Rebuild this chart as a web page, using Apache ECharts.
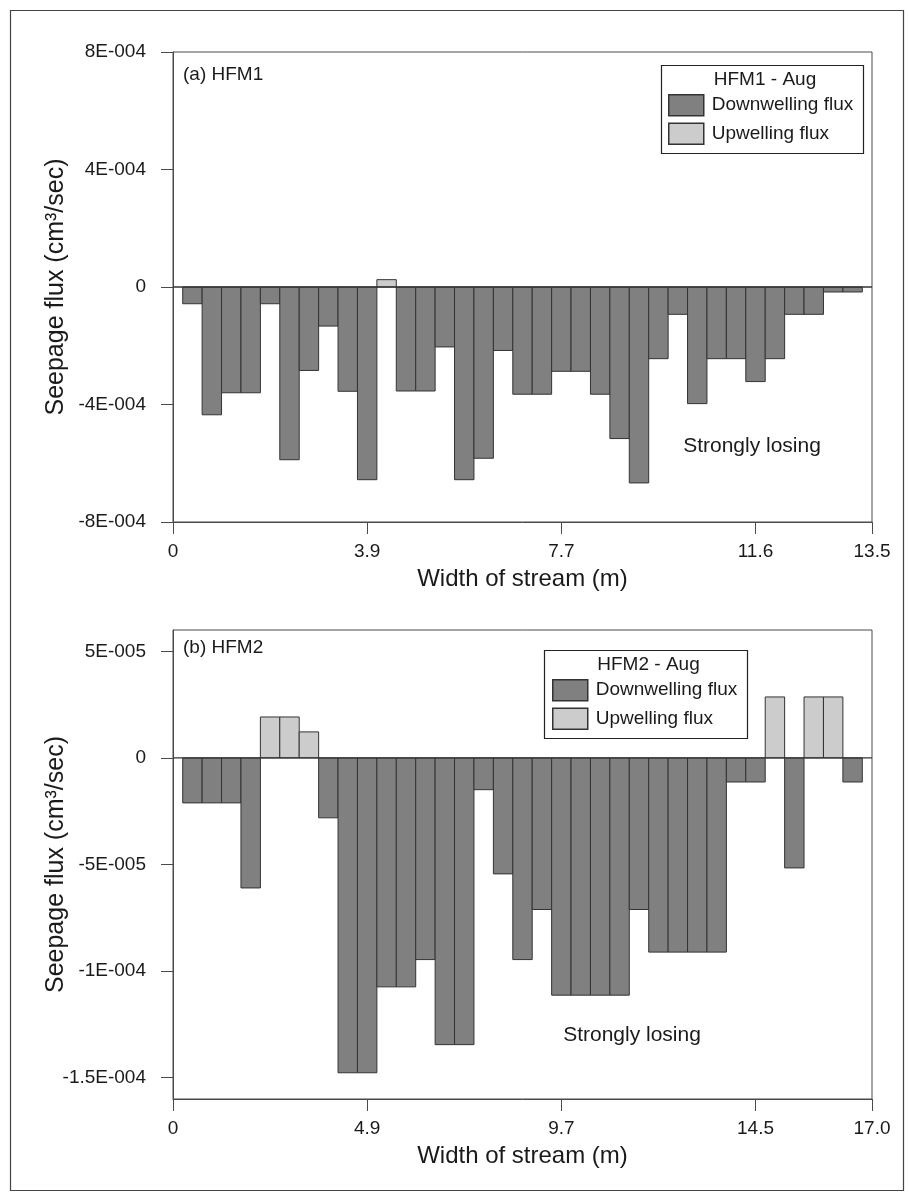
<!DOCTYPE html>
<html>
<head>
<meta charset="utf-8">
<title>Seepage flux across stream width</title>
<script src="https://cdn.jsdelivr.net/npm/echarts@6/dist/echarts.min.js"></script>
<style>
  html, body { margin: 0; padding: 0; background: #fff; }
  #chart { width: 909px; height: 1195px; }
</style>
</head>
<body>
<div id="chart"></div>
<script>
// Seepage flux (cm^3/sec) for each of the 35 measurement cells across the stream
const fluxHFM1 = [
  -5.7e-5, -4.35e-4, -3.6e-4, -3.6e-4, -5.7e-5, -5.88e-4, -2.84e-4, -1.33e-4, -3.55e-4, -6.56e-4,
  2.5e-5, -3.54e-4, -3.54e-4, -2.04e-4, -6.56e-4, -5.83e-4, -2.16e-4, -3.65e-4, -3.65e-4, -2.87e-4,
  -2.87e-4, -3.65e-4, -5.16e-4, -6.67e-4, -2.44e-4, -9.3e-5, -3.97e-4, -2.44e-4, -2.44e-4, -3.22e-4,
  -2.44e-4, -9.3e-5, -9.3e-5, -1.7e-5, -1.7e-5
];
const fluxHFM2 = [
  -2.11e-5, -2.11e-5, -2.11e-5, -6.1e-5, 1.92e-5, 1.92e-5, 1.22e-5, -2.81e-5, -1.477e-4, -1.477e-4,
  -1.074e-4, -1.074e-4, -9.46e-5, -1.345e-4, -1.345e-4, -1.49e-5, -5.44e-5, -9.46e-5, -7.11e-5, -1.113e-4,
  -1.113e-4, -1.113e-4, -1.113e-4, -7.11e-5, -9.11e-5, -9.11e-5, -9.11e-5, -9.11e-5, -1.13e-5, -1.13e-5,
  2.86e-5, -5.16e-5, 2.86e-5, 2.86e-5, -1.13e-5
];

// x axis runs over cell slots 0..36; ticks sit every ten cells and at the far bank
const xTickPos = [0, 10, 20, 30, 36];
const xTickLabelsHFM1 = ['0', '3.9', '7.7', '11.6', '13.5'];
const xTickLabelsHFM2 = ['0', '4.9', '9.7', '14.5', '17.0'];

const yTickValsHFM1 = [-8e-4, -4e-4, 0, 4e-4, 8e-4];
const yTickLabelsHFM1 = ['-8E-004', '-4E-004', '0', '4E-004', '8E-004'];
const yTickValsHFM2 = [-1.5e-4, -1e-4, -5e-5, 0, 5e-5];
const yTickLabelsHFM2 = ['-1.5E-004', '-1E-004', '-5E-005', '0', '5E-005'];

const panelTags = ['(a) HFM1', '(b) HFM2'];
const legendTitles = ['HFM1 - Aug', 'HFM2 - Aug'];
const seriesNames = ['Downwelling flux', 'Upwelling flux'];
const noteText = 'Strongly losing';

const FONT = '"Liberation Sans", Arial, Helvetica, sans-serif';
const TEXT = '#1a1a1a';
const AXIS = '#4a4a4a';
const DOWN_FILL = '#808080';
const UP_FILL = '#cccccc';
const BAR_EDGE = '#333333';

function lookup(vals, labels) {
  return function (v) {
    for (let k = 0; k < vals.length; k++) {
      if (Math.abs(vals[k] - v) < 1e-9) return labels[k];
    }
    return '';
  };
}

function splitBySign(values, positive) {
  const out = [];
  values.forEach((v, i) => {
    if ((v > 0) === positive) out.push([i + 1, v]);
  });
  return out;
}

// Each cell is a rectangle one slot wide, from zero to its flux value
function cellRenderer(fill) {
  return function (params, api) {
    const x = api.value(0), v = api.value(1);
    const p0 = api.coord([x - 0.5, 0]);
    const p1 = api.coord([x + 0.5, v]);
    return {
      type: 'rect',
      shape: {
        x: p0[0], y: Math.min(p0[1], p1[1]),
        width: p1[0] - p0[0], height: Math.abs(p1[1] - p0[1])
      },
      style: { fill: fill, stroke: BAR_EDGE, lineWidth: 1 }
    };
  };
}

// Horizontal zero reference spanning the whole plot width
function zeroLineRenderer(params, api) {
  const a = api.coord([0, 0]);
  const b = api.coord([36, 0]);
  return {
    type: 'line',
    shape: { x1: a[0], y1: a[1], x2: b[0], y2: b[1] },
    style: { stroke: '#333', lineWidth: 1.3 }
  };
}

const gridLeft = 173, gridWidth = 699;
const grids = [
  { left: gridLeft, top: 52, width: gridWidth, height: 470 },
  { left: gridLeft, top: 630, width: gridWidth, height: 469 }
];

function xAxisFor(idx, labels) {
  return {
    type: 'value', gridIndex: idx, min: 0, max: 36,
    name: 'Width of stream (m)', nameLocation: 'middle', nameGap: 45,
    nameTextStyle: { fontFamily: FONT, fontSize: 24, color: TEXT },
    axisLine: { show: true, onZero: false, lineStyle: { color: AXIS, width: 1 } },
    axisTick: { show: true, length: 12, customValues: xTickPos, lineStyle: { color: AXIS } },
    axisLabel: {
      customValues: xTickPos, margin: 20, fontFamily: FONT, fontSize: 19, color: TEXT,
      formatter: lookup(xTickPos, labels)
    },
    splitLine: { show: false }
  };
}

function yAxisFor(idx, min, max, vals, labels) {
  return {
    type: 'value', gridIndex: idx, min: min, max: max,
    name: 'Seepage flux (cm³/sec)', nameLocation: 'middle', nameRotate: 90, nameGap: 104,
    nameMoveOverlap: false,
    nameTextStyle: { fontFamily: FONT, fontSize: 25, color: TEXT },
    axisLine: { show: true, onZero: false, lineStyle: { color: AXIS, width: 1 } },
    axisTick: { show: true, length: 12, customValues: vals, lineStyle: { color: AXIS } },
    axisLabel: {
      customValues: vals, margin: 27, fontFamily: FONT, fontSize: 19, color: TEXT,
      formatter: lookup(vals, labels)
    },
    splitLine: { show: false }
  };
}

function panelSeries(idx, values) {
  return [
    {
      name: seriesNames[0], type: 'custom', xAxisIndex: idx, yAxisIndex: idx,
      itemStyle: { color: DOWN_FILL, borderColor: BAR_EDGE, borderWidth: 1 },
      renderItem: cellRenderer(DOWN_FILL), encode: { x: 0, y: 1 },
      data: splitBySign(values, false), z: 2
    },
    {
      name: seriesNames[1], type: 'custom', xAxisIndex: idx, yAxisIndex: idx,
      itemStyle: { color: UP_FILL, borderColor: BAR_EDGE, borderWidth: 1 },
      renderItem: cellRenderer(UP_FILL), encode: { x: 0, y: 1 },
      data: splitBySign(values, true), z: 2
    },
    {
      name: 'zero', type: 'custom', xAxisIndex: idx, yAxisIndex: idx,
      renderItem: zeroLineRenderer, encode: { x: 0, y: 1 },
      data: [[0, 0]], silent: true, z: 3
    }
  ];
}

function legendFor(left, top) {
  return {
    orient: 'vertical', left: left, top: top, z: 10,
    itemWidth: 35, itemHeight: 21, itemGap: 6, padding: 0,
    selectedMode: false,
    textStyle: { fontFamily: FONT, fontSize: 19, color: TEXT, padding: [0, 0, 0, 3] },
    data: [
      { name: seriesNames[0], icon: 'rect', itemStyle: { color: DOWN_FILL, borderColor: BAR_EDGE, borderWidth: 1.5 } },
      { name: seriesNames[1], icon: 'rect', itemStyle: { color: UP_FILL, borderColor: BAR_EDGE, borderWidth: 1.5 } }
    ]
  };
}

function legendFrame(x, y, w, h, title) {
  return [
    { type: 'rect', left: x, top: y, shape: { width: w, height: h },
      style: { fill: 'none', stroke: '#222', lineWidth: 1.2 }, z: 1, silent: true },
    { type: 'text', x: x + w / 2 + 5, y: y + 17, z: 6,
      style: { text: title, fontFamily: FONT, fontSize: 19, fill: TEXT, align: 'center', verticalAlign: 'middle' } }
  ];
}

const chart = echarts.init(document.getElementById('chart'), null, { renderer: 'canvas' });
chart.setOption({
  backgroundColor: '#ffffff',
  animation: false,
  grid: grids.map(g => Object.assign({ show: true, borderColor: AXIS, borderWidth: 1, backgroundColor: 'transparent' }, g)),
  xAxis: [xAxisFor(0, xTickLabelsHFM1), xAxisFor(1, xTickLabelsHFM2)],
  yAxis: [
    yAxisFor(0, -8e-4, 8e-4, yTickValsHFM1, yTickLabelsHFM1),
    yAxisFor(1, -1.6e-4, 6e-5, yTickValsHFM2, yTickLabelsHFM2)
  ],
  legend: [legendFor(668, 94), legendFor(552, 679)],
  series: panelSeries(0, fluxHFM1).concat(panelSeries(1, fluxHFM2)),
  graphic: [
    { type: 'rect', left: 8, top: 8, shape: { width: 893, height: 1180 },
      style: { fill: 'none', stroke: '#444', lineWidth: 1.2 }, silent: true, z: 0 },
    ...legendFrame(659, 63, 202, 88, legendTitles[0]),
    ...legendFrame(542, 648, 203, 88, legendTitles[1]),
    { type: 'text', x: 183, y: 75, z: 6,
      style: { text: panelTags[0], fontFamily: FONT, fontSize: 19, fill: TEXT, verticalAlign: 'middle' } },
    { type: 'text', x: 183, y: 648, z: 6,
      style: { text: panelTags[1], fontFamily: FONT, fontSize: 19, fill: TEXT, verticalAlign: 'middle' } },
    { type: 'text', x: 752, y: 446, z: 6,
      style: { text: noteText, fontFamily: FONT, fontSize: 21, fill: TEXT, align: 'center', verticalAlign: 'middle' } },
    { type: 'text', x: 632, y: 1035, z: 6,
      style: { text: noteText, fontFamily: FONT, fontSize: 21, fill: TEXT, align: 'center', verticalAlign: 'middle' } }
  ]
});
</script>
</body>
</html>
